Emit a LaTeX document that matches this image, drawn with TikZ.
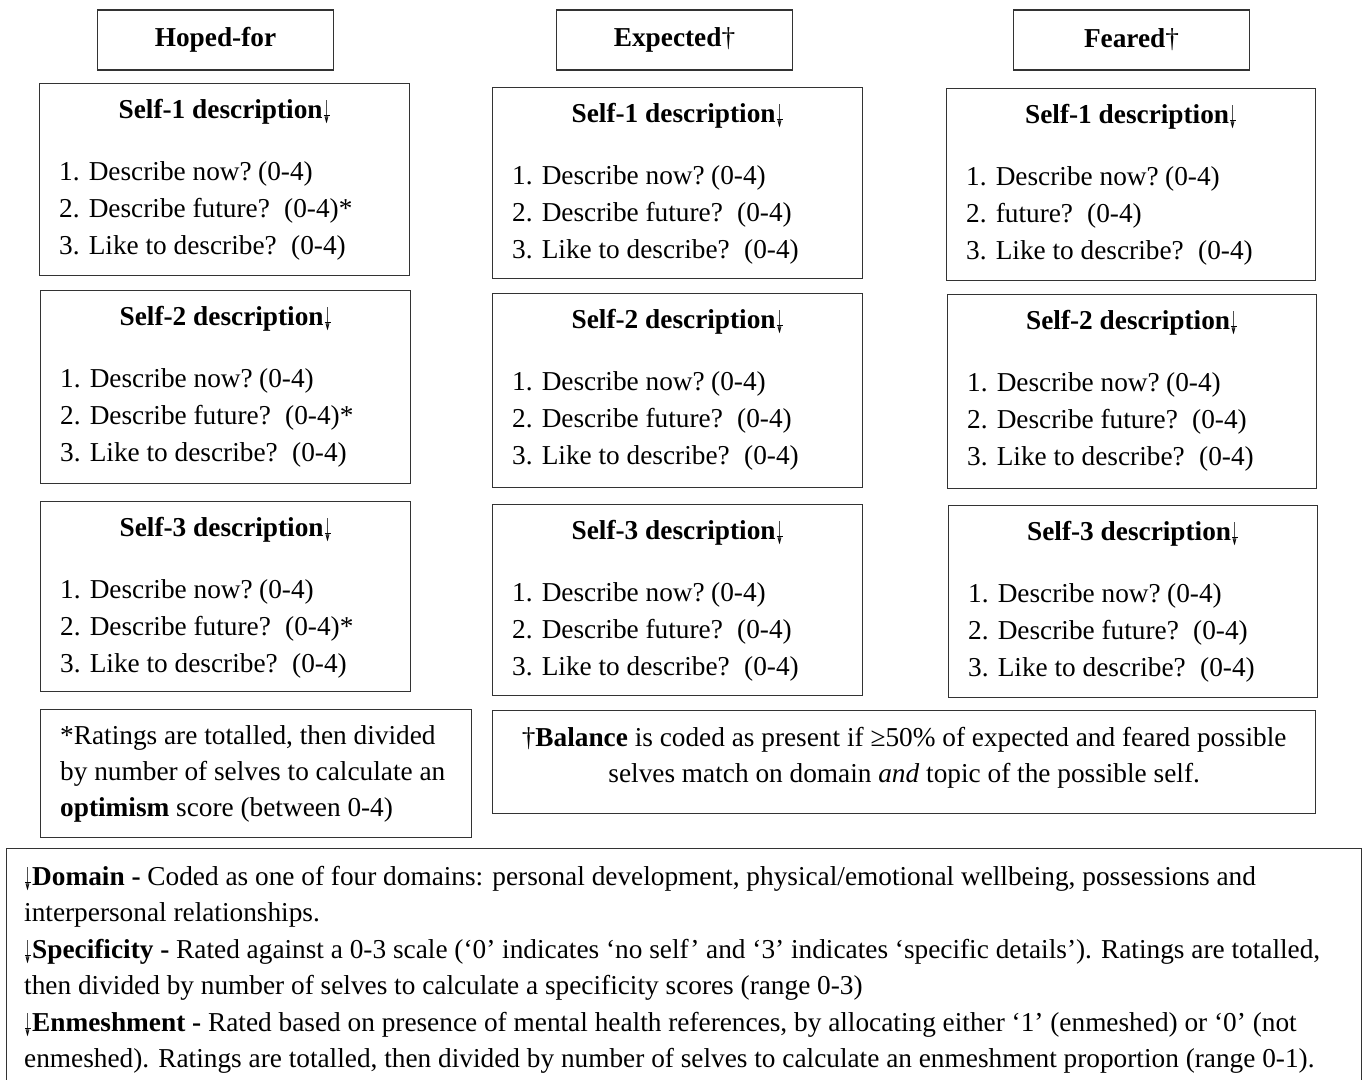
\documentclass[tikz,border=0pt]{standalone}
\usepackage{fontspec}
\usepackage{graphicx}
\setmainfont{Liberation Serif}
\newfontfamily\symfont{DejaVu Sans}
\usetikzlibrary{calc}
\newcommand{\basefont}{\fontsize{27.3}{37}\selectfont}
\newcommand{\darr}{\makebox[8pt]{\raisebox{-5pt}{\ooalign{\resizebox{7pt}{23pt}{\symfont\fontsize{10}{10}\selectfont\mdseries ↓}\cr\hidewidth\rule[7pt]{6pt}{0.9pt}\hidewidth\cr}}}}
\newcommand{\lnow}{\makebox[199pt][l]{1. Describe now?}(0-4)}
\newcommand{\lfut}[1]{\makebox[225pt][l]{2. Describe future?}(0-4)#1}
\newcommand{\llike}{\makebox[232pt][l]{3. Like to describe?}(0-4)}
\tikzset{
  box/.style={draw=black!80, line width=1.3pt, inner sep=0pt, anchor=north west},
  hdr/.style={draw=black!80, line width=1.3pt, inner sep=0pt, font=\basefont\bfseries, minimum width=236, minimum height=60},
  lab/.style={anchor=base west, inner sep=0pt},
  ctr/.style={anchor=base, inner sep=0pt},
  ttl/.style={anchor=base, inner sep=0pt, font=\basefont\bfseries},
}
\newcommand{\selfbox}[9]{%
  \node[box, minimum width={#4-#2}, minimum height={#5-#3}] (#1) at (#2,#3) {};
  \node[ttl] (#1t) at ($(#1.north)+(0,35)$) {#6};
  \node[lab] (#1a) at ($(#1.north west)+(20,97)$) {#7};
  \node[lab] (#1b) at ($(#1.north west)+(20,134)$) {#8};
  \node[lab] (#1c) at ($(#1.north west)+(20,171)$) {#9};
}
\begin{document}
\begin{tikzpicture}[x=1pt, y=-1pt, font=\basefont]
\useasboundingbox (0,0) rectangle (1364,1079);
% headers
\node[hdr] (hope) at (215.5,40) {Hoped-for};
\node[hdr] (expe) at (674.5,40) {Expected\textmd{†}};
\node[hdr] (fear) at (1131.5,40) {Feared\textmd{†}};
% column 1
\selfbox{hA}{39}{83}{409}{275}{Self-1 description\darr}{\lnow}{\lfut{*}}{\llike}
\selfbox{hB}{40}{290}{410}{483}{Self-2 description\darr}{\lnow}{\lfut{*}}{\llike}
\selfbox{hC}{40}{501}{410}{691}{Self-3 description\darr}{\lnow}{\lfut{*}}{\llike}
% column 2
\selfbox{eA}{492}{87}{862}{278}{Self-1 description\darr}{\lnow}{\lfut{}}{\llike}
\selfbox{eB}{492}{293}{862}{487}{Self-2 description\darr}{\lnow}{\lfut{}}{\llike}
\selfbox{eC}{492}{504}{862}{695}{Self-3 description\darr}{\lnow}{\lfut{}}{\llike}
% column 3
\selfbox{fA}{946}{88}{1315}{280}{Self-1 description\darr}{\lnow}{\makebox[121pt][l]{2. future?}(0-4)}{\llike}
\selfbox{fB}{947}{294}{1316}{488}{Self-2 description\darr}{\lnow}{\lfut{}}{\llike}
\selfbox{fC}{948}{505}{1317}{697}{Self-3 description\darr}{\lnow}{\lfut{}}{\llike}
% optimism note
\node[box, minimum width=431, minimum height=128] (note) at (40,709) {};
\node[lab] (n1) at ($(note.north west)+(20,35)$) {*Ratings are totalled, then divided};
\node[lab] (n2) at ($(note.north west)+(20,71)$) {by number of selves to calculate an};
\node[lab] (n3) at ($(note.north west)+(20,107)$) {\textbf{optimism} score (between 0-4)};
% balance note
\node[box, minimum width=823, minimum height=103] (bal) at (492,710) {};
\node[ctr] (b1) at ($(bal.north)+(0,36)$) {†\textbf{Balance} is coded as present if ≥50\% of expected and feared possible};
\node[ctr] (b2) at ($(bal.north)+(0,72)$) {selves match on domain \textit{and} topic of the possible self.};
% legend
\node[box, minimum width=1355, minimum height=260] (leg) at (6,848) {};
\node[lab] (g1) at (24,885) {\darr\textbf{Domain -} Coded as one of four domains: personal development, physical/emotional wellbeing, possessions and};
\node[lab] (g2) at (24,921) {interpersonal relationships.};
\node[lab] (g3) at (24,958) {\darr\textbf{Specificity -} Rated against a 0-3 scale (‘0’ indicates ‘no self’ and ‘3’ indicates ‘specific details’). Ratings are totalled,};
\node[lab] (g4) at (24,994) {then divided by number of selves to calculate a specificity scores (range 0-3)};
\node[lab] (g5) at (24,1031) {\darr\textbf{Enmeshment -} Rated based on presence of mental health references, by allocating either ‘1’ (enmeshed) or ‘0’ (not};
\node[lab] (g6) at (24,1067) {enmeshed). Ratings are totalled, then divided by number of selves to calculate an enmeshment proportion (range 0-1).};
\end{tikzpicture}
\end{document}
